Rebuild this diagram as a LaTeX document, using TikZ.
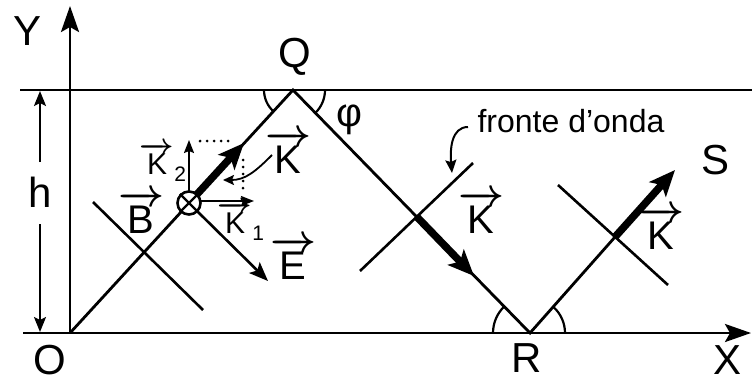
\RequirePackage{fix-cm}
\documentclass[tikz,border=0pt]{standalone}
\usepackage{fontspec}
\setmainfont{Liberation Sans}
\usetikzlibrary{arrows.meta}
\newcommand{\vecl}[1]{\mbox{\boldmath$\overrightarrow{\mbox{#1}}$}}
\begin{document}
\begin{tikzpicture}[x=1pt,y=-1pt,
  thinl/.style={line width=2.8pt},
  thickv/.style={line width=7.5pt,-{Stealth[length=26pt,width=22pt,inset=6pt]}},
  axarrow/.style={line width=2.8pt,-{Stealth[length=26pt,width=18pt,inset=5pt]}},
  smallarr/.style={line width=2.2pt,-{Stealth[length=15pt,width=12pt,inset=3pt]}},
  big/.style={inner sep=0pt,font=\fontsize{42}{44}\selectfont},
  vlab/.style={inner sep=0pt,font=\fontsize{40}{42}\selectfont},
  slab/.style={inner sep=0pt,font=\fontsize{30}{32}\selectfont},
  dots/.style={line width=3pt,line cap=round,dash pattern=on 0pt off 7pt},
  wave/.style={line width=2.6pt}]
\useasboundingbox (0,0) rectangle (754,383);
% key points
\coordinate (O) at (70,333);
\coordinate (Q) at (293,90);
\coordinate (R) at (530,333);
\coordinate (S) at (675,170);
\coordinate (Ytip) at (70,6);
\coordinate (Xs) at (23,333);
\coordinate (Xtip) at (751,333);
\coordinate (Ts) at (20,90);
\coordinate (Te) at (752,90);
% crossing points of the wave fronts
\coordinate (C1) at (144,252);
\coordinate (C2) at (417,217);
\coordinate (C3) at (615,237);
% wave front ends
\coordinate (W1a) at (93,202);  \coordinate (W1b) at (203,310);
\coordinate (W2a) at (473,163); \coordinate (W2b) at (360,271);
\coordinate (W3a) at (558,185); \coordinate (W3b) at (668,285);
% vector tips
\coordinate (D) at (189,203);
\coordinate (K1tip) at (244,143);
\coordinate (K2tip) at (474,276);
% axes and boundary
\draw[thinl] (Ts) -- (Te);
\draw[axarrow] (O) -- (Ytip);
\draw[axarrow] (Xs) -- (Xtip);
% h dimension
\coordinate (h1) at (40,162); \coordinate (h1t) at (40,91);
\coordinate (h2) at (40,224); \coordinate (h2t) at (40,332);
\draw[smallarr] (h1) -- (h1t);
\draw[smallarr] (h2) -- (h2t);
% zigzag ray
\draw[thinl,line join=miter] (O) -- (Q) -- (R) -- (C3);
% wave fronts
\draw[wave] (W1a) -- (W1b);
\draw[wave] (W2a) -- (W2b);
\draw[wave] (W3a) -- (W3b);
% thick k vectors
\draw[thickv] (D) -- (K1tip);
\draw[thickv] (C2) -- (K2tip);
\draw[thickv] (C3) -- (S);
% angle arcs
\draw[line width=2.2pt] (Q) ++(180:29) arc[start angle=180,end angle=132.5,radius=29];
\draw[line width=2.2pt] (Q) ++(0:32) arc[start angle=0,end angle=45.7,radius=32];
\draw[line width=2.2pt] (R) ++(180:37) arc[start angle=180,end angle=225.7,radius=37];
\draw[line width=2.2pt] (R) ++(0:35) arc[start angle=0,end angle=-48.3,radius=35];
% components near the cross
\coordinate (k2s) at (189,191); \coordinate (k2e) at (189,140);
\coordinate (k1s) at (201,201); \coordinate (k1e) at (254,201);
\coordinate (dA) at (200,141); \coordinate (dB) at (232,141);
\coordinate (dC) at (243,160); \coordinate (dD) at (243,195);
\coordinate (Es) at (197,211); \coordinate (Ee) at (268,281);
\draw[line width=1.8pt,-{Stealth[length=13pt,width=10pt,inset=2pt]}] (k2s) -- (k2e);
\draw[line width=1.8pt,-{Stealth[length=13pt,width=10pt,inset=2pt]}] (k1s) -- (k1e);
\draw[dots] (dA) -- (dB);
\draw[dots] (dC) -- (dD);
\draw[line width=2.6pt,-{Stealth[length=19pt,width=15pt,inset=4pt]}] (Es) -- (Ee);
\node[circle,draw,line width=2.6pt,fill=white,minimum size=23pt,inner sep=0pt] (cross) at (D) {};
\draw[line width=2.2pt] (cross.north west) -- (cross.south east);
\draw[line width=2.2pt] (cross.north east) -- (cross.south west);
% labels
\node[big] (lY) at (28,31) {Y};
\node[big] (lQ) at (295,57) {Q};
\node[big] (lO) at (50,360) {O};
\node[big] (lR) at (527,358) {R};
\node[big] (lX) at (727,360) {X};
\node[big] (lS) at (715,160) {S};
\node[big] (lh) at (40,192) {h};
\node[inner sep=0pt,font=\fontsize{40}{42}\selectfont] (lphi) at (349,120) {φ};
\node[vlab] (lB) at (141,212) {\vecl{B}};
\node[vlab] (lE) at (293,258) {\vecl{E}};
\node[vlab] (lk) at (288,152) {\vecl{K}};
\node[vlab] (lkb) at (481,212) {\vecl{K}};
\node[vlab] (lkc) at (661,228) {\vecl{K}};
\node[slab] (lk2) at (163,162) {\vecl{K}\raisebox{-7pt}{\fontsize{21}{23}\selectfont 2}};
\node[slab] (lk1) at (241,221) {\vecl{K}\raisebox{-7pt}{\fontsize{21}{23}\selectfont 1}};
\node[inner sep=0pt,font=\fontsize{32}{34}\selectfont] (lf) at (571,121) {fronte d'onda};
% leaders
\coordinate (ka) at (272,155); \coordinate (kb) at (223,180);
\draw[line width=1.8pt,-{Stealth[length=11pt,width=10pt,inset=2pt]}] (ka) .. controls (255,172) and (245,180) .. (kb);
\coordinate (fa) at (468,127); \coordinate (fb) at (452,173);
\draw[line width=2pt,-{Stealth[length=13pt,width=11pt,inset=2pt]}] (fa) .. controls (451,127) and (450,150) .. (fb);
\end{tikzpicture}
\end{document}
